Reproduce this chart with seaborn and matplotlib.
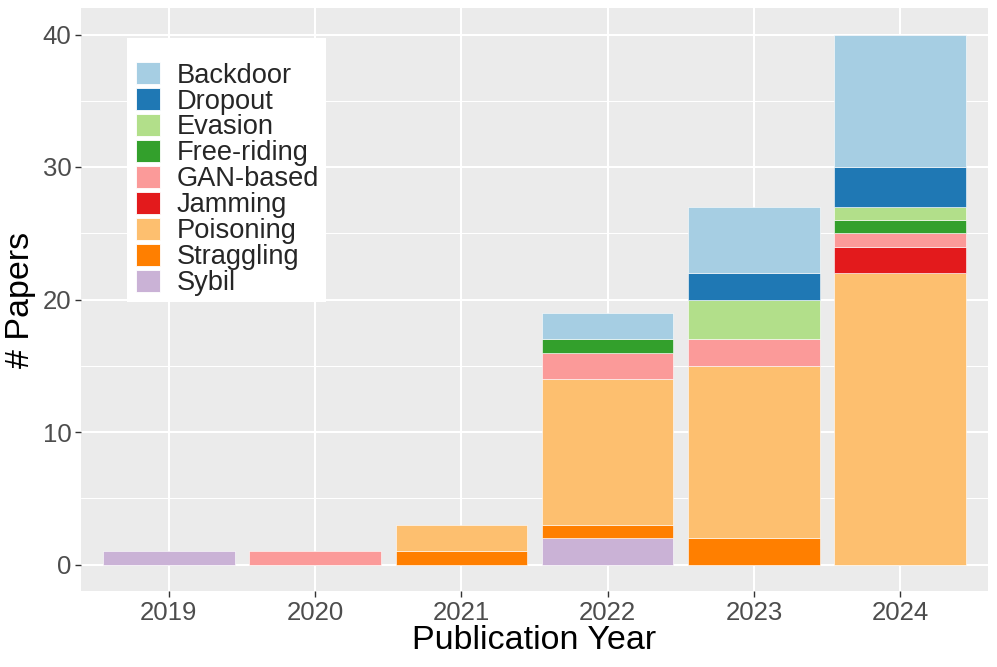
import matplotlib
matplotlib.use("Agg")
import matplotlib.pyplot as plt
import seaborn as sns
import pandas as pd
from matplotlib.patches import Patch, Rectangle
from matplotlib.ticker import MultipleLocator

attacks = ["Backdoor", "Dropout", "Evasion", "Free-riding", "GAN-based",
           "Jamming", "Poisoning", "Straggling", "Sybil"]
years = [2019, 2020, 2021, 2022, 2023, 2024]
backdoor = [0, 0, 0, 2, 5, 10]
dropout = [0, 0, 0, 0, 2, 3]
evasion = [0, 0, 0, 0, 3, 1]
free_riding = [0, 0, 0, 1, 0, 1]
gan_based = [0, 1, 0, 2, 2, 1]
jamming = [0, 0, 0, 0, 0, 2]
poisoning = [0, 0, 2, 11, 13, 22]
straggling = [0, 0, 1, 1, 2, 0]
sybil = [1, 0, 0, 2, 0, 0]
colors = ["#A6CEE3", "#1F78B4", "#B2DF8A", "#33A02C", "#FB9A99",
          "#E31A1C", "#FDBF6F", "#FF7F00", "#CAB2D6"]

series = [backdoor, dropout, evasion, free_riding, gan_based,
          jamming, poisoning, straggling, sybil]
rows = []
for a, vals in zip(attacks, series):
    for y, v in zip(years, vals):
        rows.append({"year": y, "attack": a, "count": v})
df = pd.DataFrame(rows)

sns.set_theme(style="darkgrid")
plt.rcParams["font.family"] = ["Liberation Sans", "DejaVu Sans"]

fig = plt.figure(figsize=(9.97, 6.67), dpi=100)
W, H = 997, 667
L, R, T, B = 81, 988, 8, 591
ax = fig.add_axes([L / W, 1 - B / H, (R - L) / W, (B - T) / H])
ax.set_facecolor("#EBEBEB")

sns.histplot(data=df, x="year", weights="count", hue="attack",
             hue_order=attacks, palette=colors, multiple="stack",
             discrete=True, shrink=0.9, alpha=1, edgecolor="white",
             linewidth=0.4, legend=False, ax=ax)
for p in list(ax.patches):
    if p.get_height() == 0:
        p.remove()

ax.set_xlim(years[0] - 0.6, years[-1] + 0.6)
ax.set_ylim(-2, 42)
ax.set_xticks(years)
ax.set_xticklabels([str(y) for y in years])
ax.yaxis.set_major_locator(MultipleLocator(10))
ax.yaxis.set_minor_locator(MultipleLocator(5))
ax.grid(which="major", color="white", linewidth=1.5)
ax.grid(which="minor", axis="y", color="white", linewidth=0.75)
ax.set_axisbelow(True)
for s in ax.spines.values():
    s.set_visible(False)
ax.tick_params(axis="both", which="major", labelsize=18.5, labelcolor="#4D4D4D",
               length=4, width=1, color="#333333", bottom=True, left=True, pad=3)
ax.tick_params(axis="both", which="minor", length=0)

ax.set_xlabel("Publication Year", fontsize=24.5, color="black", labelpad=0)
ax.set_ylabel("# Papers", fontsize=24.5, color="black", labelpad=5)

# legend background box
fig.patches.append(Rectangle((127 / W, 1 - 302 / H), (326 - 127) / W, (302 - 38) / H,
                             transform=fig.transFigure, facecolor="white",
                             edgecolor="none", zorder=3))
handles = [Patch(facecolor=c, edgecolor="white", linewidth=0.6) for c in colors]
leg = fig.legend(handles, attacks, loc="upper left",
                 bbox_to_anchor=(136 / W, 1 - 62 / H), frameon=False,
                 fontsize=19.6, handlelength=0.88, handleheight=0.88,
                 handletextpad=0.62, labelspacing=-0.02, borderpad=0,
                 borderaxespad=0)
leg.set_zorder(4)

fig.savefig("out.png", dpi=100)
